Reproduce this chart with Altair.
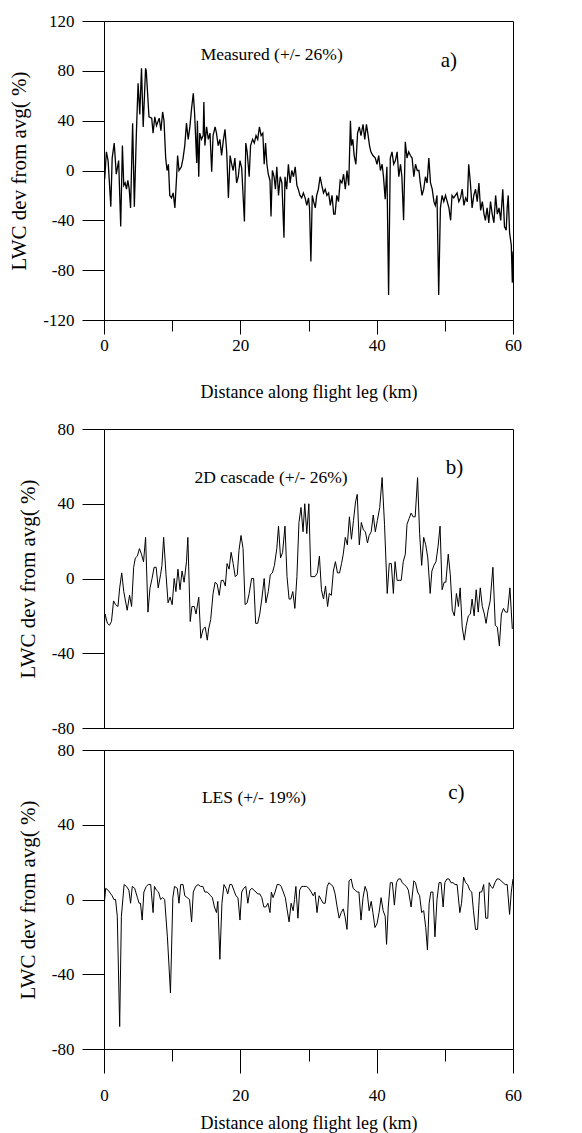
import altair as alt
import pandas as pd

FONT = "Liberation Serif"

# ---------------- panel a: measured ----------------
a_x = [
    0.0, 0.1, 0.35, 0.6, 1.0, 1.2, 1.5, 1.8, 2.15, 2.45,
    2.7, 2.9, 3.1, 3.3, 3.5, 3.7, 3.9, 4.2, 4.45, 4.75,
    5.0, 5.25, 5.5, 5.75, 6.1, 6.2, 6.6, 7.0, 7.2, 7.45,
    7.7, 8.1, 8.35, 8.6, 8.8, 9.05, 9.25, 9.45, 9.65, 9.9,
    10.15, 10.4, 10.65, 10.8, 11.0, 11.35, 11.6, 11.85, 12.1, 12.35,
    12.6, 12.85, 13.1, 13.3, 13.6, 13.7, 13.9, 14.05, 14.3, 14.55,
    14.65, 14.8, 15.05, 15.3, 15.55, 15.8, 16.0, 16.3, 16.5, 16.75,
    17.0, 17.25, 17.5, 17.75, 18.0, 18.25, 18.5, 18.7, 18.95, 19.2,
    19.45, 19.7, 19.95, 20.2, 20.6, 20.8, 21.0, 21.3, 21.5, 21.8,
    22.05, 22.3, 22.55, 22.8, 23.05, 23.3, 23.5, 23.7, 23.9, 24.1,
    24.35, 24.5, 24.7, 24.95, 25.15, 25.35, 25.6, 25.85, 26.1, 26.4,
    26.55, 26.8, 27.05, 27.3, 27.55, 27.8, 28.05, 28.3, 28.5, 28.75,
    29.0, 29.25, 29.5, 29.75, 30.0, 30.15, 30.35, 30.55, 30.75, 31.0,
    31.2, 31.45, 31.7, 31.95, 32.2, 32.45, 32.7, 32.95, 33.2, 33.45,
    33.7, 33.9, 34.15, 34.4, 34.65, 34.9, 35.15, 35.4, 35.65, 35.9,
    36.15, 36.3, 36.5, 36.7, 36.95, 37.2, 37.45, 37.7, 38.0, 38.25,
    38.5, 38.7, 38.95, 39.15, 39.45, 39.8, 40.05, 40.3, 40.55, 40.8,
    41.0, 41.25, 41.5, 41.75, 42.0, 42.25, 42.5, 42.75, 43.0, 43.25,
    43.5, 43.7, 43.95, 44.2, 44.45, 44.7, 44.95, 45.2, 45.45, 45.7,
    45.95, 46.2, 46.4, 46.65, 46.9, 47.15, 47.4, 47.65, 47.9, 48.15,
    48.4, 48.6, 48.85, 49.1, 49.35, 49.6, 49.85, 50.1, 50.35, 50.6,
    50.85, 51.05, 51.3, 51.55, 51.8, 52.05, 52.3, 52.55, 52.8, 53.05,
    53.3, 53.5, 53.75, 54.0, 54.25, 54.5, 54.75, 55.0, 55.25, 55.5,
    55.75, 55.95, 56.2, 56.45, 56.7, 56.95, 57.2, 57.45, 57.7, 57.95,
    58.2, 58.5, 58.75, 59.0, 59.15, 59.3, 59.5, 59.75, 59.9, 60.0,
]
a_y = [
    13, -7, 15, 8, -29, 10, 22, -3, 8, -45,
    20, -12, -10, -15, -8, -15, -30, 38, -29, 30,
    70, 45, 82, 35, 82, 80, 43, 42, 30, 43,
    36, 42, 32, 47, 40, 10, 0, 5, -20, -22,
    -18, -30, -5, 12, 0, 3, 10, 20, 38, 25,
    35, 50, 62, 45, 6, 40, -5, 30, 25, 28,
    55, 20, 35, 25, 30, -1, 28, 35, 30, 20,
    25, 12, 24, 33, 15, -22, 12, 6, 0, 10,
    -10, -5, 8, 2, -41, 22, 15, -5, 20, 25,
    22, 28, 25, 35, 28, 30, 5, 22, 5, -3,
    -8, -37, 0, -5, -15, 3, -20, -5, -10, -54,
    -5, -15, 5, -10, 0, -5, 3, -12, -15, -20,
    -22, -18, -22, -28, -22, -30, -73, -20, -25, -30,
    -20, -15, -5, -12, -18, -15, -20, -18, -28, -20,
    -35, -35, -20, -25, -8, -10, -3, -15, 0, -12,
    40, 20, 25, 12, 5, 30, 35, 28, 37, 25,
    37, 30, 20, 15, 12, 10, 5, 12, 0, 5,
    -5, -23, 3, -100, 10, 15, 5, 8, 15, -5,
    5, -5, -40, 23, 10, 15, 12, 10, -5, 5,
    0, 0, -10, -20, -15, -5, -10, 10, -10, -15,
    -25, -28, -20, -100, -30, -20, -25, -20, -25, -30,
    -40, -20, -22, -20, -18, -25, -22, -15, -28, -22,
    -25, 5, -10, -30, -20, -15, -25, -10, -32, -25,
    -35, -40, -30, -42, -25, -35, -42, -20, -35, -30,
    -40, -15, -45, -48, -30, -20, -50, -60, -90, -65,
]

# ---------------- panel b: 2D cascade ----------------
b_x = [
    0.0, 0.15, 0.5, 0.8, 1.1, 1.4, 1.7, 2.05, 2.3, 2.6,
    2.9, 3.4, 3.75, 4.05, 4.35, 4.6, 4.9, 5.2, 5.5, 5.8,
    6.1, 6.45, 6.75, 7.05, 7.35, 7.65, 7.95, 8.3, 8.5, 8.75,
    9.1, 9.4, 9.7, 10.0, 10.3, 10.55, 10.85, 11.15, 11.45, 11.75,
    12.1, 12.3, 12.65, 12.9, 13.25, 13.5, 13.9, 14.2, 14.55, 14.85,
    15.15, 15.35, 15.65, 16.0, 16.3, 16.6, 16.9, 17.2, 17.5, 17.8,
    18.05, 18.35, 18.65, 18.95, 19.25, 19.55, 19.8, 20.1, 20.4, 20.7,
    21.0, 21.3, 21.65, 21.95, 22.25, 22.55, 22.85, 23.15, 23.5, 23.75,
    24.1, 24.4, 24.7, 25.0, 25.35, 25.6, 25.9, 26.2, 26.55, 26.85,
    27.15, 27.4, 27.7, 28.0, 28.3, 28.6, 28.9, 29.2, 29.45, 29.75,
    30.05, 30.35, 30.65, 30.95, 31.3, 31.6, 31.9, 32.2, 32.5, 32.8,
    33.05, 33.35, 33.65, 33.95, 34.25, 34.55, 34.85, 35.1, 35.4, 35.7,
    36.0, 36.3, 36.6, 36.9, 37.15, 37.45, 37.75, 38.05, 38.35, 38.65,
    38.9, 39.2, 39.5, 39.8, 40.1, 40.45, 40.8, 41.15, 41.55, 41.85,
    42.15, 42.45, 42.7, 43.0, 43.3, 43.6, 43.9, 44.2, 44.45, 44.75,
    45.05, 45.35, 45.65, 46.0, 46.3, 46.6, 46.9, 47.2, 47.5, 47.85,
    48.1, 48.4, 48.7, 49.0, 49.3, 49.6, 49.9, 50.15, 50.5, 50.8,
    51.1, 51.4, 51.7, 52.0, 52.25, 52.55, 52.85, 53.15, 53.45, 53.75,
    54.0, 54.3, 54.6, 54.9, 55.2, 55.5, 55.8, 56.05, 56.35, 56.65,
    57.05, 57.4, 57.7, 58.0, 58.3, 58.6, 58.9, 59.2, 59.55, 59.9,
]
b_y = [
    -29, -19, -24, -25, -23, -12, -14, -15, -5, 3,
    -7, -17, -9, -15, 6, 11, 12, 16, 13, 9,
    22, -18, -5, 0, 6, 6, -5, 2, 7, 22,
    2, -13, -10, -14, 0, -7, 5, -6, 4, -2,
    9, 22, -23, -15, -15, -19, -10, -32, -27, -26,
    -33, -27, -22, -8, -2, -3, -9, -1, -1, -4,
    8, 5, 14, 8, 1, 2, 15, 23, 16, -14,
    -13, -8, 0, 0, -24, -24, -19, -11, 0, -13,
    -7, 2, 3, 7, 16, 28, 11, 14, 28, 1,
    -11, -11, -7, -16, 1, 30, 38, 25, 40, 24,
    40, 1, 1, 1, 3, 12, -6, -11, -4, -15,
    -8, -9, 4, 9, 3, 3, 8, 13, 22, 18,
    33, 21, 31, 41, 45, 18, 30, 26, 25, 19,
    23, 25, 34, 25, 31, 38, 54, 29, -8, 8,
    8, -8, 9, -1, -1, -1, 9, 13, 29, 32,
    35, 33, 33, 54, 24, 7, 22, 18, 11, -8,
    4, 7, 9, 17, 28, -6, -2, -2, 13, 2,
    -17, -20, -8, -15, -5, -26, -33, -25, -20, -19,
    -11, -20, -6, -18, -5, -15, -19, -24, -17, -12,
    6, -25, -26, -36, -19, -16, -18, -18, -5, -27,
]

# ---------------- panel c: LES ----------------
c_x = [
    0.0, 0.25, 0.6, 1.0, 1.2, 1.45, 1.7, 1.95, 2.3, 2.55,
    2.95, 3.3, 3.65, 3.9, 4.15, 4.5, 4.9, 5.15, 5.35, 5.6,
    5.85, 6.2, 6.5, 6.85, 7.2, 7.4, 7.7, 8.0, 8.3, 8.6,
    8.9, 9.3, 9.75, 10.1, 10.35, 10.75, 11.0, 11.25, 11.6, 11.85,
    12.2, 12.55, 12.85, 13.1, 13.45, 13.8, 14.15, 14.5, 14.8, 15.15,
    15.65, 15.9, 16.2, 16.5, 16.7, 17.0, 17.3, 17.6, 17.9, 18.15,
    18.45, 18.75, 19.05, 19.35, 19.65, 19.95, 20.2, 20.5, 20.8, 21.1,
    21.4, 21.7, 22.0, 22.3, 22.55, 22.85, 23.15, 23.45, 23.75, 24.05,
    24.35, 24.55, 24.8, 25.1, 25.4, 25.7, 26.0, 26.3, 26.6, 26.85,
    27.15, 27.45, 27.75, 27.95, 28.15, 28.45, 28.7, 29.0, 29.3, 29.7,
    30.05, 30.4, 30.7, 30.95, 31.25, 31.55, 31.85, 32.15, 32.45, 32.75,
    33.0, 33.3, 33.6, 33.9, 34.2, 34.5, 34.8, 35.1, 35.35, 35.65,
    35.95, 36.25, 36.55, 36.85, 37.15, 37.4, 37.7, 38.0, 38.3, 38.6,
    38.9, 39.2, 39.45, 39.75, 40.05, 40.35, 40.65, 40.95, 41.25, 41.45,
    41.7, 42.0, 42.3, 42.6, 42.9, 43.2, 43.5, 43.75, 44.05, 44.35,
    44.65, 45.05, 45.45, 45.7, 46.0, 46.3, 46.6, 46.9, 47.2, 47.45,
    47.7, 47.95, 48.25, 48.55, 48.85, 49.15, 49.45, 49.75, 50.0, 50.3,
    50.6, 50.9, 51.2, 51.5, 51.8, 52.2, 52.45, 52.75, 53.05, 53.35,
    53.65, 53.95, 54.2, 54.5, 54.8, 55.1, 55.4, 55.7, 56.0, 56.3,
    56.5, 56.75, 57.05, 57.35, 57.65, 57.95, 58.25, 58.55, 58.85, 59.15,
    59.5, 59.75, 60.0,
]
c_y = [
    -4, 6, 5, 3, 2, 0, 0, -9, -68, -9,
    8, 7, 5, -2, 7, 6, 1, -2, -2, -11,
    4, 7, 8, 8, -7, 7, 5, 4, 0, 1,
    0, -20, -50, 1, 7, 6, -2, 8, 8, 2,
    1, 0, -12, 4, 7, 8, 7, 7, 4, 4,
    2, 1, -4, -7, -1, -32, -2, 8, 6, 3,
    8, 8, 5, 2, 1, -11, 4, 6, 7, -2,
    5, 6, 5, 4, 3, 3, 1, -4, -4, -2,
    -7, 4, 1, 4, 8, 8, 7, 4, 1, -5,
    -12, -2, -6, 0, 7, -10, 5, 7, 7, 7,
    6, 4, 2, 4, -7, 2, 0, -2, -2, 7,
    9, 8, 7, 3, -4, -10, -7, -5, -9, -16,
    10, 11, 6, 5, 4, 4, -11, 1, 7, 4,
    -6, -1, -7, -15, -13, -7, 1, -6, -9, -24,
    -4, 9, 9, -3, 9, 11, 11, 9, 8, 7,
    5, -4, 10, 9, 4, 2, -7, -6, -15, -27,
    -2, 4, 4, -20, 0, 9, 9, -4, 9, 11,
    11, 9, 9, 8, 8, -7, -2, 12, 9, 8,
    5, 4, -6, -16, -16, 4, 4, 8, -10, -10,
    9, 7, 6, 9, 11, 11, 10, 9, 8, 8,
    -8, 4, 11,
]

assert len(a_x) == len(a_y) and len(b_x) == len(b_y) and len(c_x) == len(c_y)

# annotation texts (label, x in km, y in %)
a_notes = ["Measured (+/- 26%)", "a)"]
b_notes = ["2D cascade (+/- 26%)", "b)"]
c_notes = ["LES (+/- 19%)", "c)"]
note_x = [[24.6, 50.6], [24.5, 51.4], [22.0, 51.7]]
note_y = [[93.0, 88.0], [54.0, 59.0], [54.5, 57.0]]

W, H = 409, 299
XTITLE = "Distance along flight leg (km)"
YTITLE = "LWC dev from avg( %)"


def y_axis(lo, hi):
    return alt.Axis(
        values=list(range(lo, hi + 1, 20)),
        labelExpr="datum.value % 40 === 0 ? '' + datum.value : ''",
        tickSize={"condition": {"test": "datum.value % 40 === 0", "value": 22}, "value": 14},
        labelPadding=8,
        labelOverlap=False,
        labelFlush=False,
        labelFont=FONT, labelFontSize=17, labelColor="black",
        domainColor="black", tickColor="black", domainWidth=1, tickWidth=1,
        grid=False,
        title=YTITLE, titleFont=FONT, titleFontSize=21, titleFontWeight="normal",
        titleColor="black", titlePadding=13,
    )


def x_axis(kind):
    if kind == "none":
        return alt.Axis(values=[0, 60], labels=False, ticks=False, grid=False,
                        domainColor="black", title=None)
    major, minor, pad, tpad = (14, 11, 3, 30) if kind == "a" else (24, 12, 14, 11)
    return alt.Axis(
        values=list(range(0, 61, 10)),
        labelExpr="datum.value % 20 === 0 ? '' + datum.value : ''",
        tickSize={"condition": {"test": "datum.value % 20 === 0", "value": major}, "value": minor},
        labelPadding=pad,
        labelOverlap=False,
        labelFlush=False,
        labelFont=FONT, labelFontSize=17, labelColor="black",
        domainColor="black", tickColor="black", grid=False,
        title=XTITLE, titleFont=FONT, titleFontSize=18, titleFontWeight="normal",
        titleColor="black", titlePadding=tpad,
    )


def panel(xs, ys, lo, hi, xkind, notes, nx, ny, sw):
    line_df = pd.DataFrame({"x": xs, "y": ys})
    xs_ = alt.Scale(domain=[0, 60], nice=False, zero=False)
    ys_ = alt.Scale(domain=[lo, hi], nice=False, zero=False)
    line = alt.Chart(line_df).mark_line(color="black", strokeWidth=sw, clip=True).encode(
        x=alt.X("x:Q", scale=xs_, axis=x_axis(xkind)),
        y=alt.Y("y:Q", scale=ys_, axis=y_axis(lo, hi)),
        order="x:Q",
    )
    t1 = alt.Chart(pd.DataFrame({"t": [notes[0]], "x": [nx[0]], "y": [ny[0]]})).mark_text(
        font=FONT, fontSize=17.5, color="black", align="center", baseline="middle"
    ).encode(x=alt.X("x:Q", scale=xs_), y=alt.Y("y:Q", scale=ys_), text="t:N")
    t2 = alt.Chart(pd.DataFrame({"t": [notes[1]], "x": [nx[1]], "y": [ny[1]]})).mark_text(
        font=FONT, fontSize=21, color="black", align="center", baseline="middle"
    ).encode(x=alt.X("x:Q", scale=xs_), y=alt.Y("y:Q", scale=ys_), text="t:N")
    return alt.layer(line, t1, t2).properties(width=W, height=H)


pa = panel(a_x, a_y, -120, 120, "a", a_notes, note_x[0], note_y[0], 1.3)
pb = panel(b_x, b_y, -80, 80, "none", b_notes, note_x[1], note_y[1], 1.0)
pc = panel(c_x, c_y, -80, 80, "c", c_notes, note_x[2], note_y[2], 1.0)

spacer = alt.Chart(pd.DataFrame({"v": [0]})).mark_point(opacity=0).encode(
    x=alt.X("v:Q", axis=None), y=alt.Y("v:Q", axis=None)
).properties(width=W, height=65, view=alt.ViewBackground(stroke="transparent"))

chart = alt.vconcat(pa, spacer, pb, pc, spacing=22, bounds="flush").configure_view(
    stroke="black", strokeWidth=1
).properties(background="white", padding={"left": 0, "top": 3, "right": 5, "bottom": 5})

chart.save("out.html", embed_options={"renderer": "svg", "actions": False})
